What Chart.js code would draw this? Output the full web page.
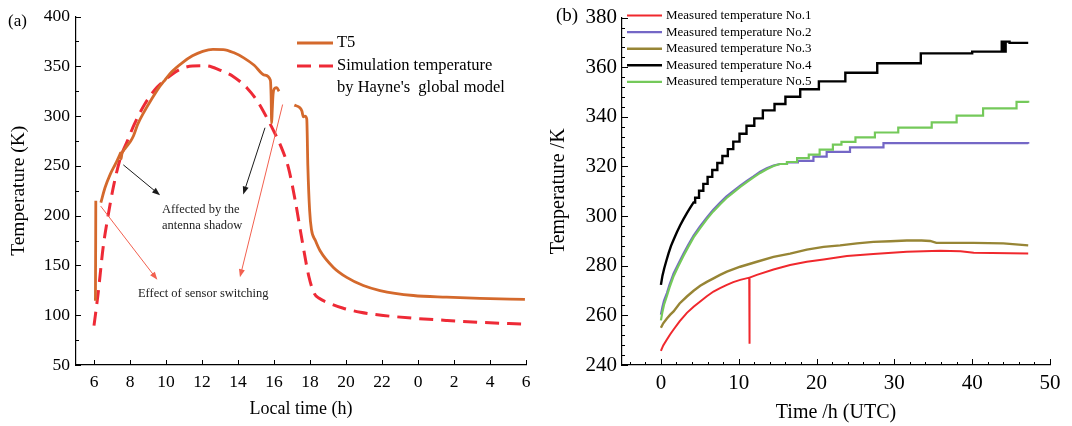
<!DOCTYPE html>
<html>
<head>
<meta charset="utf-8">
<script src="https://cdn.jsdelivr.net/npm/chart.js@4.4.0/dist/chart.umd.min.js"></script>
<style>
  html, body { margin: 0; padding: 0; background: #fff; }
  #wrap { position: relative; width: 1072px; height: 426px; }
  #chartA { position: absolute; left: 0; top: 0; }
  #chartB { position: absolute; left: 540px; top: 0; }
</style>
</head>
<body>
<div id="wrap">
  <canvas id="chartA" width="540" height="426"></canvas>
  <canvas id="chartB" width="532" height="426"></canvas>
</div>
<script>
// ---------- (a) T5 vs. simulation, local time in hours (24..30 = next morning) ----------
var leftXTicks = [6, 8, 10, 12, 14, 16, 18, 20, 22, 24, 26, 28, 30];
var leftXLabels = ['6', '8', '10', '12', '14', '16', '18', '20', '22', '0', '2', '4', '6'];
var leftYTicks = [50, 100, 150, 200, 250, 300, 350, 400];

var t5Time = [6.0, 6.08, 6.1, 6.2, 6.38, 6.61, 6.9, 7.18, 7.43, 7.47, 7.5, 7.55, 7.75, 8.04, 8.19, 8.42, 8.8, 9.18, 9.56, 9.94,
  10.32, 10.9, 11.47, 12.04, 12.61, 13.18, 13.75, 14.32, 14.9, 15.47, 15.8, 15.84, 15.87, 15.9, 15.95, 16.05, 16.15, 16.28, 16.7, 17.13,
  17.44, 17.55, 17.63, 17.72, 17.82, 17.88, 17.98, 18.08, 18.3, 18.56, 19.3, 20.04, 20.96, 21.89, 23.74, 25.59, 27.44, 29.94];
var t5Temp = [116, 116, 215, null, 213, 228, 241.5, 251.5, 261, 263, 257, 262, 268, 275, 280, 291.4, 304.7, 316.3, 327.3, 336.2,
  344.5, 353.5, 360.5, 365, 367, 366.8, 363.8, 358.5, 351, 341.2, 336, 320, 293, 305, 322, 328, 328.5, 325, null, 311,
  308.3, 305, 299.3, 300, 297, 250, 205, 186, 175, 164.7, 148, 138, 129.8, 124.8, 119.8, 118.1, 116.9, 115.9];

var simTime = [6.0, 6.23, 6.51, 6.8, 7.09, 7.47, 7.85, 8.23, 8.8, 9.37, 9.94, 10.7, 11.47, 12.23, 12.99, 13.75, 14.51, 15.09,
  15.66, 16.04, 16.42, 16.8, 17.18, 17.56, 17.94, 18.23, 18.51, 19.09, 19.85, 20.8, 21.75, 23.66, 25.56, 27.47, 29.83];
var simTemp = [89.5, 122, 168.5, 201.7, 230, 258, 274.8, 291.4, 311.3, 326.3, 336.2, 346.2, 350.2, 350.5, 346.2, 339.6, 328, 314.6,
  296.4, 283, 268.1, 248.2, 215, 175.2, 138.6, 122, 117, 112, 107, 103, 100.4, 97.1, 94.8, 92.8, 91.1];

// annotations of (a), in axis units: [fromX, fromY, toX, toY]
var blackArrows = [[7.63, 251, 9.67, 220.5], [15.5, 288.3, 14.29, 221.2]];
var redArrows = [[6.37, 209.6, 9.52, 135.5], [16.48, 311.6, 14.11, 138.1]];
var noteText = ['Affected by the', 'antenna shadow', 'Effect of sensor switching'];
var notePos = [[9.78, 205.6], [9.78, 189.6], [8.44, 121.8]];

// ---------- (b) measured temperatures, time in hours (UTC) ----------
var rightXTicks = [0, 10, 20, 30, 40, 50];
var rightYTicks = [240, 260, 280, 300, 320, 340, 360, 380];
var seriesNames = ['Measured temperature No.1', 'Measured temperature No.2', 'Measured temperature No.3',
  'Measured temperature No.4', 'Measured temperature No.5'];

var n1Time = [0, 0.3, 0.77, 1.2, 1.63, 2.4, 3.34, 4.2, 5.05, 5.9, 6.76, 7.6, 8.48, 9.3, 10.19, 11.35, 11.37, 11.39, 11.41, 12.33,
  14.47, 16.6, 18.75, 20.9, 23.9, 27.3, 31.6, 35.9, 38.5, 40.2, 47.2];
var n1Temp = [245.7, 247.9, 250.3, 252.4, 254.3, 257.6, 261, 263.5, 265.6, 267.7, 269.6, 271, 272.3, 273.4, 274.3, 275.2, 248.6, 248.6, 275.2, 276.3,
  278.5, 280.3, 281.6, 282.5, 283.9, 284.7, 285.6, 286, 285.8, 285.2, 284.9];

var n3Time = [0, 0.3, 0.77, 1.2, 1.63, 2.4, 3.34, 4.2, 5.05, 5.9, 6.76, 7.6, 8.48, 10.19, 12.33, 14.47, 16.6, 18.75, 20.9, 23.03,
  25.2, 27.3, 29.5, 31.6, 33.5, 34.6, 35.4, 40.2, 44, 47.2];
var n3Temp = [255, 256.8, 258.7, 260.3, 261.6, 264.8, 267.6, 269.9, 271.9, 273.5, 274.9, 276.3, 277.6, 279.6, 281.6, 283.6, 284.9, 286.5, 287.6, 288.2,
  289, 289.6, 289.9, 290.2, 290.2, 290, 289.2, 289.2, 289, 288.2];

// No.2 and No.5: smooth rise, then stepped readings
var fitTime = [0, 0.2, 0.4, 0.77, 1.1, 1.63, 2.2, 2.91, 3.5, 4.2, 5.0, 5.91, 6.7, 7.62, 8.4, 9.33, 10.2, 11.04, 11.9, 12.76, 13.6, 14.47, 15.3];
var n2Temp = [260.3, 263.5, 266, 269, 272.3, 276.9, 280.5, 284.9, 288.3, 292.2, 295.8, 299.5, 302.5, 305.5, 307.9, 310.2, 312.3, 314.2, 316, 317.9, 319.3, 320.4, 321.0];
var n2StepTime = [16.2, 17.6, 19.6, 21.3, 24.3, 28.6, 47.2];
var n2StepTemp = [321.6, 322.3, 324, 325.9, 327.7, 329.4, 329.2];
var n5Temp = [258, 261.5, 264.3, 267.8, 271.2, 275.8, 279.6, 284, 287.5, 291.4, 295, 298.8, 301.8, 304.8, 307.2, 309.6, 311.8, 313.7, 315.6, 317.4, 318.9, 320.2, 321.0];
var n5StepTime = [16.2, 17.5, 19.0, 20.4, 22.1, 23.2, 25.0, 27.5, 30.5, 34.8, 38.0, 41.4, 45.7, 47.2];
var n5StepTemp = [321.8, 323.4, 324.8, 326.8, 328.8, 329.9, 331.7, 333.7, 335.7, 337.8, 340.5, 343.4, 346, 345.7];

// No.4
var n4Time = [0, 0.2, 0.43, 0.7, 0.98, 1.3, 1.63, 2.05, 2.48, 2.9, 3.34, 3.77, 4.2];
var n4Temp = [272.3, 276, 279, 282, 285, 288, 290.5, 293.5, 296.3, 298.8, 301.2, 303.4, 305.5];
var n4StepTime = [4.4, 4.9, 5.45, 6.0, 6.6, 7.25, 7.9, 8.6, 9.3, 10.1, 11.0, 12.0, 13.1, 14.6, 16.0, 17.9, 20.3, 23.7, 27.8, 33.4,
  40.0, 43.8, 44.1, 44.3, 44.8, 47.2];
var n4StepTemp = [307.4, 310.2, 313, 315.8, 318.6, 321.4, 324.2, 327, 330, 333.2, 336.4, 339.4, 342.6, 345.2, 348.1, 351.1, 354.3, 357.8, 361.6, 365.6,
  366.3, 370.3, 366.3, 370.3, 369.8, 369.8];

var seriesColors = ['#f0282d', '#7467c6', '#978535', '#000000', '#74c95a'];

var FONT = "'Liberation Serif', 'Times New Roman', serif";

function pts(xs, ys) {
  return xs.map(function (x, i) { return { x: x, y: ys[i] }; });
}

// smooth part followed by stair corners
function withStairs(xs, ys, stepXs, stepYs) {
  var p = pts(xs, ys);
  var prev = ys[ys.length - 1];
  for (var i = 0; i < stepXs.length; i++) {
    p.push({ x: stepXs[i], y: prev });
    p.push({ x: stepXs[i], y: stepYs[i] });
    prev = stepYs[i];
  }
  return p;
}

function minorValues(scale, step) {
  var out = [];
  var start = Math.ceil(scale.min / step) * step;
  for (var v = start; v <= scale.max + 1e-9; v += step) out.push(v);
  return out;
}

// inward tick marks like the original plot
var tickMarks = {
  id: 'tickMarks',
  afterDraw: function (chart, args, opts) {
    var ctx = chart.ctx, area = chart.chartArea;
    var xs = chart.scales.x, ys = chart.scales.y;
    ctx.save();
    ctx.strokeStyle = '#000';
    ctx.lineWidth = 1;
    ctx.beginPath();
    xs.ticks.forEach(function (t) {
      var px = Math.round(xs.getPixelForValue(t.value)) + 0.5;
      ctx.moveTo(px, area.bottom); ctx.lineTo(px, area.bottom - opts.major);
    });
    if (opts.xMinor) minorValues(xs, opts.xMinor).forEach(function (v) {
      var px = Math.round(xs.getPixelForValue(v)) + 0.5;
      ctx.moveTo(px, area.bottom); ctx.lineTo(px, area.bottom - opts.minor);
    });
    ys.ticks.forEach(function (t) {
      var py = Math.round(ys.getPixelForValue(t.value)) + 0.5;
      ctx.moveTo(area.left, py); ctx.lineTo(area.left + opts.major, py);
    });
    if (opts.yMinor) minorValues(ys, opts.yMinor).forEach(function (v) {
      var py = Math.round(ys.getPixelForValue(v)) + 0.5;
      ctx.moveTo(area.left, py); ctx.lineTo(area.left + opts.minor, py);
    });
    ctx.stroke();
    ctx.restore();
  }
};

// hand-placed legend + panel letter
var sideLegend = {
  id: 'sideLegend',
  afterDraw: function (chart, args, opts) {
    var ctx = chart.ctx;
    ctx.save();
    ctx.textBaseline = 'middle';
    ctx.fillStyle = '#000';
    ctx.font = opts.letterFont;
    ctx.fillText(opts.letter, opts.letterX, opts.letterY);
    ctx.font = opts.font;
    opts.items.forEach(function (it) {
      var ds = chart.data.datasets[it.dataset];
      ctx.strokeStyle = ds.borderColor;
      ctx.lineWidth = ds.borderWidth;
      ctx.setLineDash(ds.borderDash || []);
      ctx.beginPath();
      ctx.moveTo(opts.x0, it.y);
      ctx.lineTo(opts.x1, it.y);
      ctx.stroke();
      ctx.setLineDash([]);
      it.lines.forEach(function (txt, k) {
        ctx.fillText(txt, opts.textX, it.y + k * opts.lineGap);
      });
    });
    ctx.restore();
  }
};

function arrow(ctx, x0, y0, x1, y1, color) {
  var a = Math.atan2(y1 - y0, x1 - x0);
  var L = 8, W = 3;
  ctx.strokeStyle = color;
  ctx.fillStyle = color;
  ctx.lineWidth = 1;
  ctx.beginPath();
  ctx.moveTo(x0, y0);
  ctx.lineTo(x1 - L * 0.8 * Math.cos(a), y1 - L * 0.8 * Math.sin(a));
  ctx.stroke();
  ctx.beginPath();
  ctx.moveTo(x1, y1);
  ctx.lineTo(x1 - L * Math.cos(a) + W * Math.sin(a), y1 - L * Math.sin(a) - W * Math.cos(a));
  ctx.lineTo(x1 - L * Math.cos(a) - W * Math.sin(a), y1 - L * Math.sin(a) + W * Math.cos(a));
  ctx.closePath();
  ctx.fill();
}

var notes = {
  id: 'notes',
  afterDatasetsDraw: function (chart) {
    var ctx = chart.ctx, xs = chart.scales.x, ys = chart.scales.y;
    ctx.save();
    blackArrows.forEach(function (a) {
      arrow(ctx, xs.getPixelForValue(a[0]), ys.getPixelForValue(a[1]), xs.getPixelForValue(a[2]), ys.getPixelForValue(a[3]), '#1a1a1a');
    });
    redArrows.forEach(function (a) {
      arrow(ctx, xs.getPixelForValue(a[0]), ys.getPixelForValue(a[1]), xs.getPixelForValue(a[2]), ys.getPixelForValue(a[3]), '#f2604f');
    });
    ctx.fillStyle = '#222';
    ctx.font = '12.5px ' + FONT;
    ctx.textBaseline = 'middle';
    noteText.forEach(function (t, i) {
      ctx.fillText(t, xs.getPixelForValue(notePos[i][0]), ys.getPixelForValue(notePos[i][1]));
    });
    ctx.restore();
  }
};

function axis(opts) {
  return {
    type: 'linear',
    min: opts.min,
    max: opts.max,
    afterBuildTicks: function (scale) {
      scale.ticks = opts.ticks.map(function (v) { return { value: v }; });
    },
    afterFit: function (scale) {
      if (opts.width) scale.width = opts.width;
      if (opts.height) scale.height = opts.height;
    },
    grid: { display: false, drawTicks: false },
    border: { display: true, color: '#000', width: 1.2 },
    ticks: {
      autoSkip: false,
      maxRotation: 0,
      padding: opts.padding,
      color: '#000',
      font: { family: FONT, size: opts.tickSize },
      callback: opts.labels ? function (v, i) { return opts.labels[i]; } : function (v) { return v; }
    },
    title: {
      display: true,
      text: opts.title,
      color: '#000',
      font: { family: FONT, size: opts.titleSize },
      padding: opts.titlePadding
    }
  };
}

Chart.defaults.font.family = FONT;

new Chart(document.getElementById('chartA').getContext('2d'), {
  type: 'line',
  data: {
    datasets: [{
      label: 'T5',
      data: pts(t5Time, t5Temp),
      borderColor: '#d4692c',
      borderWidth: 2.8,
      pointRadius: 0,
      spanGaps: false,
      cubicInterpolationMode: 'monotone'
    }, {
      label: "Simulation temperature by Hayne's global model",
      data: pts(simTime, simTemp),
      borderColor: '#ee2a36',
      borderWidth: 3,
      borderDash: [14, 8],
      pointRadius: 0,
      cubicInterpolationMode: 'monotone'
    }]
  },
  options: {
    responsive: false,
    animation: false,
    events: [],
    layout: { padding: { left: 0, right: 14, top: 14, bottom: 0 } },
    plugins: {
      legend: { display: false },
      tooltip: { enabled: false },
      tickMarks: { major: 5, minor: 3, yMinor: 25 },
      sideLegend: {
        letter: '(a)', letterX: 8, letterY: 22, letterFont: '17px ' + FONT,
        font: '16.5px ' + FONT, x0: 297, x1: 333, textX: 337, lineGap: 22,
        items: [
          { dataset: 0, y: 43, lines: ['T5'] },
          { dataset: 1, y: 66, lines: ['Simulation temperature', "by Hayne's  global model"] }
        ]
      }
    },
    scales: {
      x: axis({ min: 5, max: 30, ticks: leftXTicks, labels: leftXLabels, height: 61, padding: 7, tickSize: 17.5,
        title: 'Local time (h)', titleSize: 18, titlePadding: { top: 0, bottom: 6 } }),
      y: axis({ min: 50, max: 400, ticks: leftYTicks, width: 76, padding: 6, tickSize: 17.5,
        title: 'Temperature (K)', titleSize: 19.5, titlePadding: { top: 7, bottom: 0 } })
    }
  },
  plugins: [tickMarks, sideLegend, notes]
});

new Chart(document.getElementById('chartB').getContext('2d'), {
  type: 'line',
  data: {
    datasets: [
      { label: seriesNames[0], data: pts(n1Time, n1Temp), borderColor: seriesColors[0], borderWidth: 2, order: 5 },
      { label: seriesNames[1], data: withStairs(fitTime, n2Temp, n2StepTime, n2StepTemp), borderColor: seriesColors[1], borderWidth: 2.2, order: 4 },
      { label: seriesNames[2], data: pts(n3Time, n3Temp), borderColor: seriesColors[2], borderWidth: 2.4, order: 3 },
      { label: seriesNames[3], data: withStairs(n4Time, n4Temp, n4StepTime, n4StepTemp), borderColor: seriesColors[3], borderWidth: 2.4, order: 2 },
      { label: seriesNames[4], data: withStairs(fitTime, n5Temp, n5StepTime, n5StepTemp), borderColor: seriesColors[4], borderWidth: 2.2, order: 1 }
    ].map(function (ds) { ds.pointRadius = 0; ds.tension = 0; return ds; })
  },
  options: {
    responsive: false,
    animation: false,
    events: [],
    layout: { padding: { left: 0, right: 22, top: 15, bottom: 0 } },
    plugins: {
      legend: { display: false },
      tooltip: { enabled: false },
      tickMarks: { major: 6, minor: 3, xMinor: 2, yMinor: 4 },
      sideLegend: {
        letter: '(b)', letterX: 16, letterY: 16, letterFont: '19px ' + FONT,
        font: '13px ' + FONT, x0: 87, x1: 122, textX: 126, lineGap: 0,
        items: seriesNames.map(function (n, i) { return { dataset: i, y: 15.5 + i * 16.6, lines: [n] }; })
      }
    },
    scales: {
      x: axis({ min: -5, max: 50, ticks: rightXTicks, height: 61, padding: 6, tickSize: 21,
        title: 'Time /h (UTC)', titleSize: 20, titlePadding: { top: 0, bottom: 1 } }),
      y: axis({ min: 240, max: 380, ticks: rightYTicks, width: 82, padding: 5, tickSize: 21,
        title: 'Temperature /K', titleSize: 20, titlePadding: { top: 7, bottom: 0 } })
    }
  },
  plugins: [tickMarks, sideLegend]
});
</script>
</body>
</html>
